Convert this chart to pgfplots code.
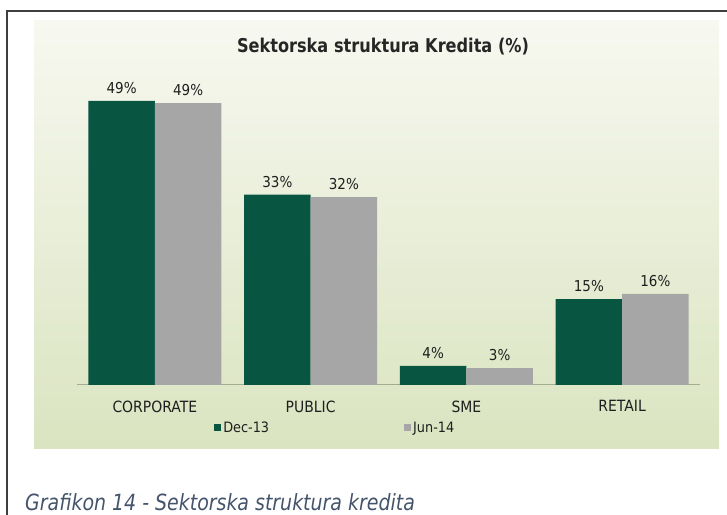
\documentclass[border=0pt]{standalone}
\usepackage{pgfplots}
\pgfplotsset{compat=1.18}
\usepackage{fontspec}
\setmainfont{DejaVu Sans}[FakeStretch=0.9]
\newfontfamily\narrowfont{DejaVu Sans}[FakeStretch=0.85]
\definecolor{dkgreen}{HTML}{085542}
\definecolor{gbar}{HTML}{A6A6A6}
\definecolor{paneltop}{HTML}{F7F8F0}
\definecolor{panelbot}{HTML}{DAE4C0}
\definecolor{axisline}{HTML}{A3AD90}
\definecolor{captioncol}{HTML}{44546A}
\definecolor{framecol}{HTML}{3F3F3F}
\begin{document}
\begin{tikzpicture}
\path[use as bounding box] (0,0) rectangle (727bp,515bp);
\draw[line width=2bp, framecol] (6.5bp,0) -- (6.5bp,504bp) -- (727bp,504bp);
\shade[top color=paneltop, bottom color=panelbot] (34bp,66bp) rectangle (719bp,494bp);
\node[font=\narrowfont\fontsize{19bp}{22bp}\selectfont\bfseries, text=black!85] at (383bp,468bp) {Sektorska struktura Kredita (\%)};
\node[anchor=west, font=\narrowfont\fontsize{22.3bp}{26bp}\selectfont\itshape, text=captioncol, inner sep=0pt] at (25bp,13bp) {Grafikon 14 - Sektorska struktura kredita};
\begin{axis}[
  at={(77bp,130bp)}, anchor=south west,
  scale only axis, width=623bp, height=325bp,
  xmin=-0.5, xmax=3.5, ymin=0, ymax=56.03,
  hide y axis,
  axis x line*=bottom,
  x axis line style={axisline, line width=1bp, -},
  xtick={0,1,2,3},
  xticklabels={CORPORATE,PUBLIC,SME,RETAIL},
  major tick length=0pt,
  xticklabel style={font=\fontsize{15.5bp}{18bp}\selectfont, text=black!88, yshift=-12bp},
  ybar=0pt, bar width=66.5bp,
  nodes near coords,
  point meta=explicit symbolic,
  nodes near coords style={font=\fontsize{15bp}{17bp}\selectfont, text=black!88, yshift=4bp},
  legend columns=2,
  legend style={at={(0.22,-0.132)}, anchor=west, draw=none, fill=none, inner sep=0pt,
    font=\fontsize{14.3bp}{16bp}\selectfont, text=black!88,
    /tikz/every odd column/.append style={column sep=0bp},
    /tikz/every even column/.append style={column sep=133bp}},
  legend image code/.code={\fill[#1] (0bp,-3.5bp) rectangle (7bp,3.5bp);},
]
\addplot[fill=dkgreen, draw=none] coordinates {(0,49.0) [49\%] (1,32.8) [33\%] (2,3.3) [4\%] (3,14.8) [15\%]};
\addplot[fill=gbar, draw=none] coordinates {(0,48.6) [49\%] (1,32.4) [32\%] (2,2.9) [3\%] (3,15.7) [16\%]};
\legend{Dec-13,Jun-14}
\end{axis}
\end{tikzpicture}
\end{document}
